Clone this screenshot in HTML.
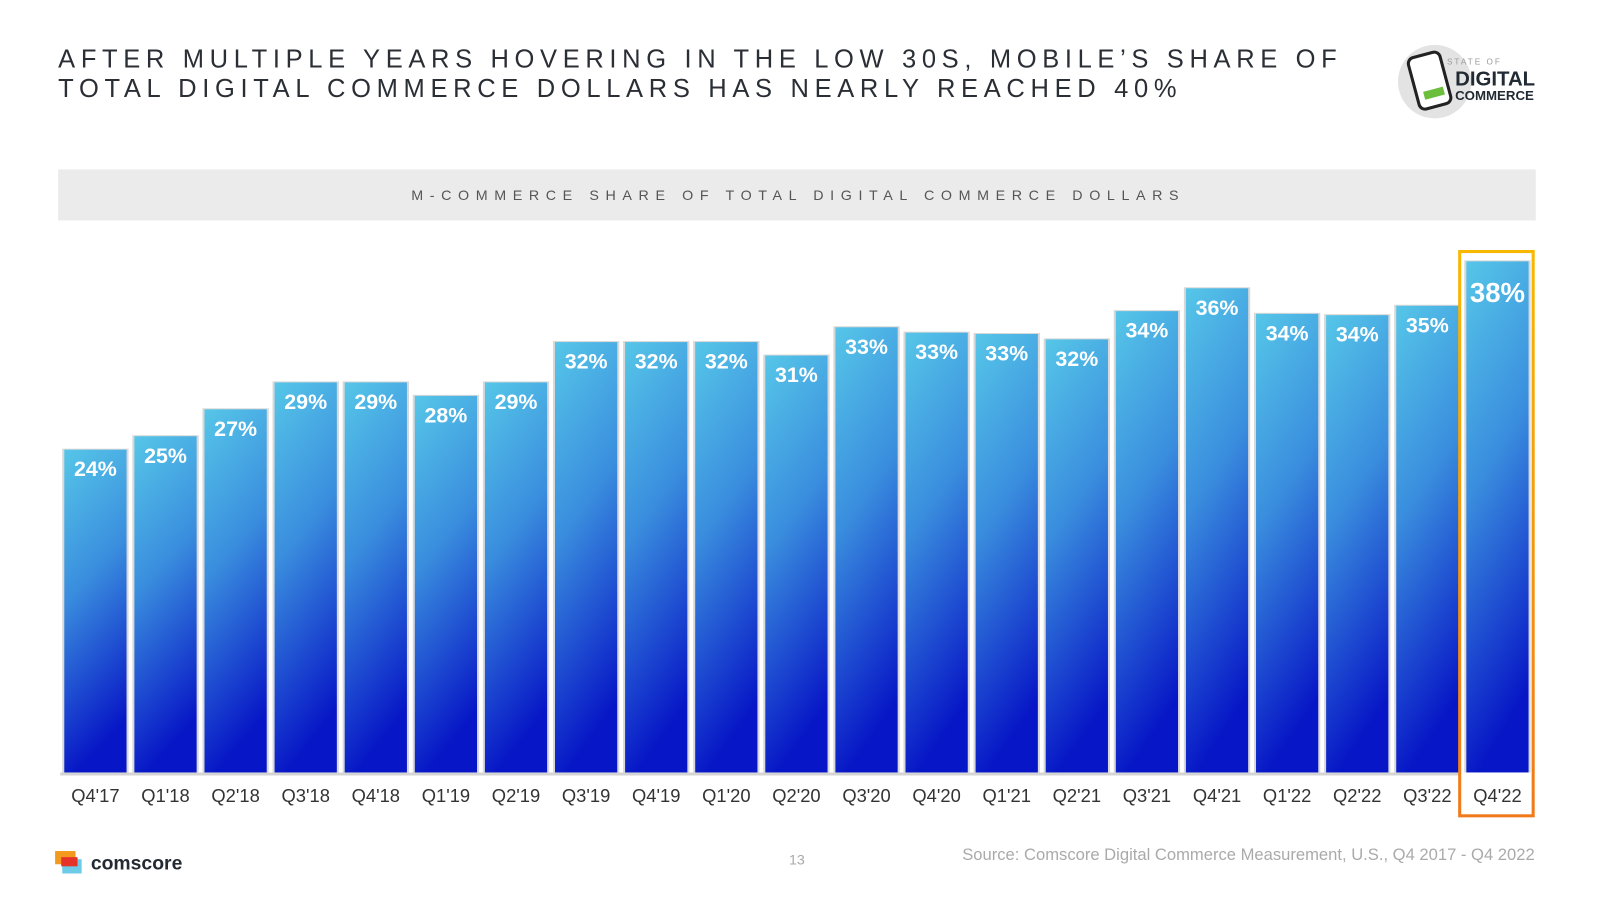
<!DOCTYPE html>
<html><head><meta charset="utf-8"><style>
html,body{margin:0;padding:0;background:#fff;}
svg{display:block;font-family:"Liberation Sans",Arial,sans-serif;}
</style></head><body>
<svg id="chart" width="1600" height="900" viewBox="0 0 1568 882">
<defs>
<linearGradient id="barGrad" x1="0" y1="0" x2="0.2" y2="1">
<stop offset="0" stop-color="#56c6e8"/><stop offset="0.45" stop-color="#3a8ede"/><stop offset="1" stop-color="#0716c6"/>
</linearGradient>
<linearGradient id="hlGrad" x1="0" y1="0" x2="0" y2="1">
<stop offset="0" stop-color="#f8b800"/><stop offset="1" stop-color="#f07a1a"/>
</linearGradient>
</defs>
<text x="57" y="66" font-size="25" fill="#2a2e35" textLength="1253" lengthAdjust="spacing">AFTER MULTIPLE YEARS HOVERING IN THE LOW 30S, MOBILE’S SHARE OF</text>
<text x="57" y="95" font-size="25" fill="#2a2e35" textLength="1096" lengthAdjust="spacing">TOTAL DIGITAL COMMERCE DOLLARS HAS NEARLY REACHED 40%</text>
<g>
<circle cx="1406" cy="80" r="36" fill="#e3e3e3"/>
<rect x="1385" y="53" width="32" height="52" rx="6" fill="#fff" stroke="#222" stroke-width="3" transform="rotate(-15 1401 79)"/>
<rect x="1392" y="88" width="20" height="8" fill="#6cbf3c" transform="rotate(-15 1401 79)"/>
<text x="1418" y="63" font-size="8" fill="#999" letter-spacing="2">STATE OF</text>
<text x="1426" y="84" font-size="20" font-weight="bold" fill="#222a33">DIGITAL</text>
<text x="1426" y="98" font-size="13" font-weight="bold" fill="#222a33">COMMERCE</text>
</g>
<rect x="57" y="166" width="1448" height="50" fill="#ebebeb"/>
<text x="403" y="196" font-size="14" fill="#555" textLength="752" lengthAdjust="spacing">M-COMMERCE SHARE OF TOTAL DIGITAL COMMERCE DOLLARS</text>
<g id="bars"></g>
<rect x="1430.5" y="246.5" width="72" height="553" fill="none" stroke="url(#hlGrad)" stroke-width="3"/>
<g>
<rect x="54" y="834" width="20" height="13" fill="#f39a1e"/>
<rect x="61" y="842" width="19" height="14" fill="#6dcbe8"/>
<rect x="60" y="840" width="16" height="9" fill="#e5332a"/>
<text x="89" y="852" font-size="19" font-weight="bold" fill="#232a33">comscore</text>
</g>
<text x="781" y="847" font-size="14" fill="#aaa" text-anchor="middle">13</text>
<text x="943" y="843" font-size="16" fill="#aaa" textLength="561" lengthAdjust="spacingAndGlyphs">Source: Comscore Digital Commerce Measurement, U.S., Q4 2017 - Q4 2022</text>
</svg>
<script>
const categories = ["Q4'17","Q1'18","Q2'18","Q3'18","Q4'18","Q1'19","Q2'19","Q3'19","Q4'19","Q1'20","Q2'20","Q3'20","Q4'20","Q1'21","Q2'21","Q3'21","Q4'21","Q1'22","Q2'22","Q3'22","Q4'22"];
const values = [24.0,25.0,27.0,29.0,29.0,28.0,29.0,32.0,32.0,32.0,31.0,33.1,32.7,32.6,32.2,34.3,36.0,34.1,34.0,34.7,38.0];
const labels = ["24%","25%","27%","29%","29%","28%","29%","32%","32%","32%","31%","33%","33%","33%","32%","34%","36%","34%","34%","35%","38%"];
const NS="http://www.w3.org/2000/svg";
const base=757, perPct=13.18, x0=63, pitch=68.7, bw=61;
const xPos=i=>x0+i*pitch;
const yPos=v=>base-v*perPct;
const g=document.getElementById('bars');
function mk(t,a){const e=document.createElementNS(NS,t);for(const k in a)e.setAttribute(k,a[k]);return e;}
const axis=mk('line',{x1:59,x2:1430,y1:base+1.5,y2:base+1.5,stroke:'#d4d4d4','stroke-width':3});


g.appendChild(axis);
categories.forEach((c,i)=>{
  const x=xPos(i), y=yPos(values[i]);
  const sh=mk('rect',{x:x-2,y:y-1,width:bw+4,height:base-y+1,fill:'#d8d8d8'});
  
  
  g.appendChild(sh);
  const r=mk('rect',{x:x,y:y,width:bw,height:base-y,fill:'url(#barGrad)'});
  
  
  g.appendChild(r);
  const last=i===categories.length-1;
  const t=mk('text',{x:x+bw/2,y:y+(last?40:26),'font-size':last?27:21,'font-weight':'bold',fill:'#fff','text-anchor':'middle'});
  t.textContent=labels[i];
  
  
  g.appendChild(t);
  const l=mk('text',{x:x+bw/2,y:786,'font-size':18,fill:'#333','text-anchor':'middle'});
  l.textContent=c;
  
  
  g.appendChild(l);
});
</script>
</body></html>
